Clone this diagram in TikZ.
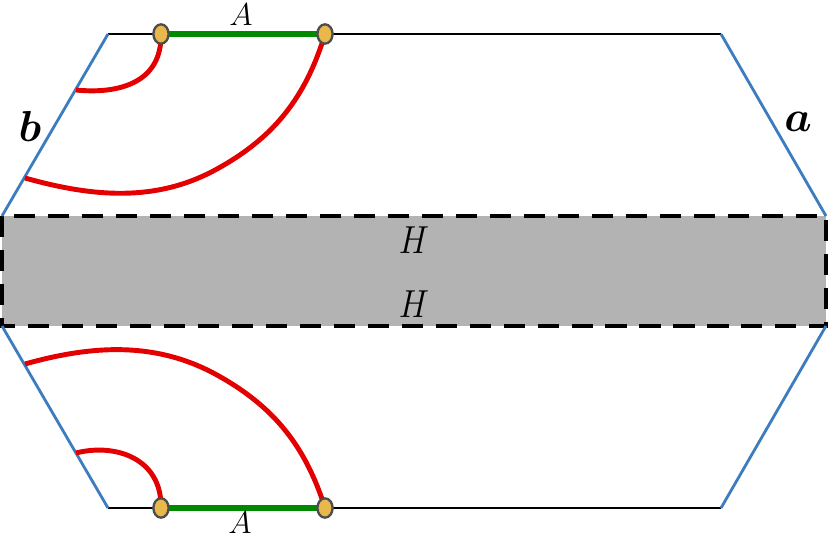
\RequirePackage{fix-cm}
\documentclass[tikz,border=0pt]{standalone}
\usetikzlibrary{shapes.geometric}
\definecolor{bblue}{HTML}{3C7DC0}
\definecolor{rred}{HTML}{E40000}
\definecolor{ggreen}{HTML}{008A00}
\definecolor{dotfill}{HTML}{E8B84C}
\definecolor{dotedge}{HTML}{4D4D4D}
\definecolor{band}{HTML}{B3B3B3}
\tikzset{
  edgeblue/.style={draw=bblue, line width=2.4pt},
  edgeblack/.style={draw=black, line width=2.4pt},
  segA/.style={draw=ggreen, line width=4.8pt},
  geo/.style={draw=rred, line width=4.2pt},
  endpt/.style={ellipse, draw=dotedge, fill=dotfill, line width=2pt, minimum width=13pt, minimum height=16.5pt, inner sep=0pt},
  bandbox/.style={fill=band, draw=black, line width=3.9pt, dash pattern=on 18pt off 11pt},
  lblA/.style={font=\fontsize{27}{30}\selectfont},
  lblH/.style={font=\fontsize{29}{32}\selectfont, yscale=1.15},
  lblab/.style={font=\fontsize{37}{40}\selectfont\boldmath}
}
\begin{document}
\begin{tikzpicture}[x=0.03cm, y=-0.03cm]
\useasboundingbox (0,0) rectangle (830,540);
% corners
\coordinate (tl) at (108,34);
\coordinate (tr) at (721,34);
\coordinate (ml1) at (2,216);
\coordinate (mr1) at (826,216);
\coordinate (ml2) at (2,326);
\coordinate (mr2) at (826,326);
\coordinate (bl) at (108,508);
\coordinate (br) at (721,508);
% points on the side b
\coordinate (p1) at (76,90);
\coordinate (p2) at (25,178);
\coordinate (q2) at (25,364);
\coordinate (q1) at (76,453);
\coordinate (mt) at (217,169);
\coordinate (mb) at (217,375);
% band
\path[bandbox] (ml1) rectangle (mr2);
% black edges
\draw[edgeblack] (tl) -- (tr);
\draw[edgeblack] (bl) -- (br);
% blue edges
\draw[edgeblue] (tl) -- (ml1);
\draw[edgeblue] (tr) -- (mr1);
\draw[edgeblue] (ml2) -- (bl);
\draw[edgeblue] (mr2) -- (br);
% endpoints
\coordinate (a1) at (161,34);
\coordinate (a2) at (325,34);
\coordinate (b1) at (161,508);
\coordinate (b2) at (325,508);
\draw[segA] (a1) -- (a2);
\draw[segA] (b1) -- (b2);
% red geodesics
\draw[geo] (a1) .. controls (162,85) and (115,94) .. (p1);
\draw[geo] (a2) .. controls (305.5,97.8) and (273.9,137.6) .. (mt)
                .. controls (155.75,202.8) and (92.4,196.9) .. (p2);
\draw[geo] (q2) .. controls (92.4,345.1) and (155.75,341.2) .. (mb)
                .. controls (273.9,406.4) and (305.5,446.2) .. (b2);
\draw[geo] (q1) .. controls (115,443) and (162,458) .. (b1);
% dots
\node[endpt] (d1) at (a1) {};
\node[endpt] (d2) at (a2) {};
\node[endpt] (d3) at (b1) {};
\node[endpt] (d4) at (b2) {};
% labels
\node[lblA] (lA1) at (241,15) {$A$};
\node[lblA] (lA2) at (240,523) {$A$};
\node[lblH] (lH1) at (414,240) {$H$};
\node[lblH] (lH2) at (414,304) {$H$};
\node[lblab] (lb) at (30,126) {$b$};
\node[lblab] (la) at (798,122) {$a$};
\end{tikzpicture}
\end{document}
